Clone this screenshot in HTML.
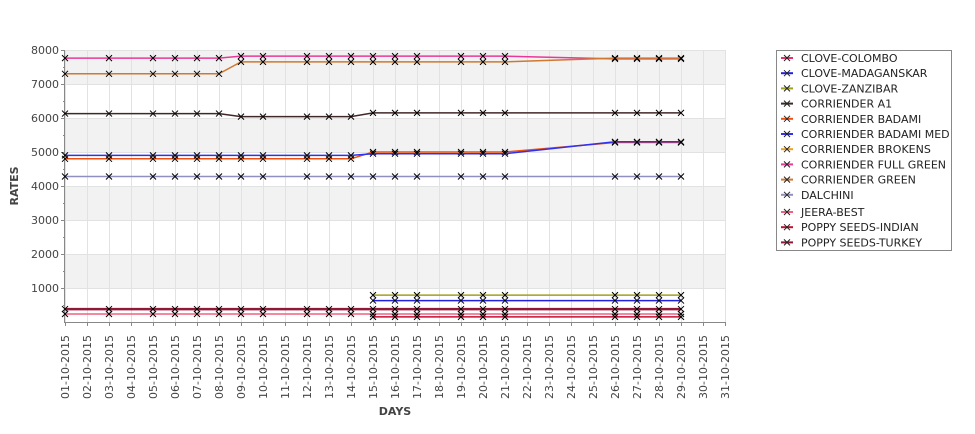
<!DOCTYPE html>
<html><head><meta charset="utf-8"><style>
body{margin:0;background:#fff;font-family:"Liberation Sans","DejaVu Sans",sans-serif}
svg text{font-family:"DejaVu Sans","Liberation Sans",sans-serif}
</style></head><body>
<svg id="c" width="975" height="429" xmlns="http://www.w3.org/2000/svg"></svg>
<script>
const days=[1,3,5,6,7,8,9,10,12,13,14,15,16,17,19,20,21,26,27,28,29];
const dayLabels=[];for(let d=1;d<=31;d++)dayLabels.push((d<10?'0':'')+d+'-10-2015');
const yTicks=[1000,2000,3000,4000,5000,6000,7000,8000];
const seriesNames=["CLOVE-COLOMBO","CLOVE-MADAGANSKAR","CLOVE-ZANZIBAR","CORRIENDER A1","CORRIENDER BADAMI","CORRIENDER BADAMI MED","CORRIENDER BROKENS","CORRIENDER FULL GREEN","CORRIENDER GREEN","DALCHINI","JEERA-BEST","POPPY SEEDS-INDIAN","POPPY SEEDS-TURKEY"];
const seriesColors=["#e8306a","#2020e0","#a0a020","#402828","#f05010","#3030f0","#f0a020","#e83898","#d07830","#9090c0","#f06080","#c01030","#901838"];
const N=null;
const sColombo=[N,N,N,N,N,N,N,N,N,N,N,N,N,N,N,N,N,N,N,N,N];
const sMadag=[N,N,N,N,N,N,N,N,N,N,N,630,630,630,630,630,630,630,630,630,630];
const sZanz=[N,N,N,N,N,N,N,N,N,N,N,790,790,790,790,790,790,790,790,790,790];
const sA1=[6130,6130,6130,6130,6130,6130,6040,6040,6040,6040,6040,6150,6150,6150,6150,6150,6150,6150,6150,6150,6150];
const sBadami=[4800,4800,4800,4800,4800,4800,4800,4800,4800,4800,4800,5000,5000,5000,5000,5000,5000,5280,5280,5280,5280];
const sBadamiMed=[4900,4900,4900,4900,4900,4900,4900,4900,4900,4900,4900,4950,4950,4950,4950,4950,4950,5300,5300,5300,5300];
const sBrokens=[N,N,N,N,N,N,N,N,N,N,N,N,N,N,N,N,N,N,N,N,N];
const sFullGreen=[7760,7760,7760,7760,7760,7760,7820,7820,7820,7820,7820,7820,7820,7820,7820,7820,7820,7740,7740,7740,7740];
const sGreen=[7300,7300,7300,7300,7300,7300,7650,7650,7650,7650,7650,7650,7650,7650,7650,7650,7650,7760,7760,7760,7760];
const sDalchini=[4280,4280,4280,4280,4280,4280,4280,4280,4280,4280,4280,4280,4280,4280,4280,4280,4280,4280,4280,4280,4280];
const sJeera=[235,235,235,235,235,235,235,235,235,235,235,235,235,235,235,235,235,235,235,235,235];
const sPoppyIndian=[N,N,N,N,N,N,N,N,N,N,N,150,150,150,150,150,150,150,150,150,150];
const sPoppyTurkey=[380,380,380,380,380,380,380,380,380,380,380,380,380,380,380,380,380,380,380,380,380];
const allSeries=[sColombo,sMadag,sZanz,sA1,sBadami,sBadamiMed,sBrokens,sFullGreen,sGreen,sDalchini,sJeera,sPoppyIndian,sPoppyTurkey];

const X0=65,X1=725,Y0=322,Y1=50;
const xs=d=>X0+(d-1)*(X1-X0)/30;
const ys=v=>Y0-(v/8000)*(Y0-Y1);
const svg=document.getElementById('c');const NS='http://www.w3.org/2000/svg';
function mk(t,a,p){const e=document.createElementNS(NS,t);for(const k in a)e.setAttribute(k,a[k]);(p||svg).appendChild(e);return e;}
// bands
const bands=mk('g',{});


for(let i=0;i<8;i++){const r=mk('rect',{x:X0,y:ys((i+1)*1000),width:X1-X0,height:ys(i*1000)-ys((i+1)*1000),fill:i%2?'#f2f2f2':'#ffffff'},bands);}
const grid=mk('g',{stroke:'#e2e2e2','stroke-width':1});


for(let d=1;d<=31;d++)mk('line',{x1:xs(d)+.5,x2:xs(d)+.5,y1:Y1,y2:Y0},grid);
yTicks.forEach(v=>mk('line',{x1:X0,x2:X1,y1:ys(v)+.5,y2:ys(v)+.5},grid));
// axes
const ax=mk('g',{stroke:'#888','stroke-width':1});


mk('line',{x1:X0-.5,x2:X0-.5,y1:Y1,y2:Y0+1},ax);
mk('line',{x1:X0,x2:X1,y1:Y0+.5,y2:Y0+.5},ax);
for(let v=500;v<=8000;v+=500)mk('line',{x1:X0-(v%1000?2:4),x2:X0,y1:ys(v)+.5,y2:ys(v)+.5},ax);
for(let d=1;d<=31;d++)mk('line',{x1:xs(d)+.5,x2:xs(d)+.5,y1:Y0,y2:Y0+4},ax);
yTicks.forEach(v=>{const t=mk('text',{x:X0-6,y:ys(v)+4,'text-anchor':'end','font-size':11,fill:'#444'});t.textContent=v;
});
dayLabels.forEach((l,i)=>{const x=xs(i+1)+4,y=335;const t=mk('text',{x:x,y:y,transform:`rotate(-90 ${x} ${y})`,'text-anchor':'end','font-size':11,fill:'#444'});t.textContent=l;
});
let t=mk('text',{x:395,y:415,'text-anchor':'middle','font-size':11,'font-weight':'bold',fill:'#444'});t.textContent='DAYS';

t=mk('text',{x:18,y:186,transform:'rotate(-90 18 186)','text-anchor':'middle','font-size':11,'font-weight':'bold',fill:'#444'});t.textContent='RATES';

// series
function cross(g,x,y,s){mk('path',{d:`M${x-3} ${y-3}L${x+3} ${y+3}M${x-3} ${y+3}L${x+3} ${y-3}`,stroke:s||'#000','stroke-width':1},g);}
allSeries.forEach((s,si)=>{const g=mk('g',{});


let d='';let pen=false;
s.forEach((v,i)=>{if(v==null){pen=false;return;}d+=(pen?'L':'M')+xs(days[i])+' '+ys(v);pen=true;});
if(d)mk('path',{d:d,fill:'none',stroke:seriesColors[si],'stroke-width':si===12?2.5:1.5},g);
s.forEach((v,i)=>{if(v!=null)cross(g,xs(days[i]),ys(v));});});
// legend
const lg=mk('g',{});


mk('rect',{x:776.5,y:50.5,width:175,height:200,fill:'#fff',stroke:'#888'},lg);
seriesNames.forEach((n,i)=>{const y=58+i*15.2+(i>=10?2:0);const e=mk('g',{},lg);


mk('line',{x1:781,x2:793,y1:y,y2:y,stroke:seriesColors[i],'stroke-width':2},e);cross(e,787,y,'#222');
const tt=mk('text',{x:801,y:y+4,'font-size':11,fill:'#222'},e);tt.textContent=n;});
</script>
</body></html>
